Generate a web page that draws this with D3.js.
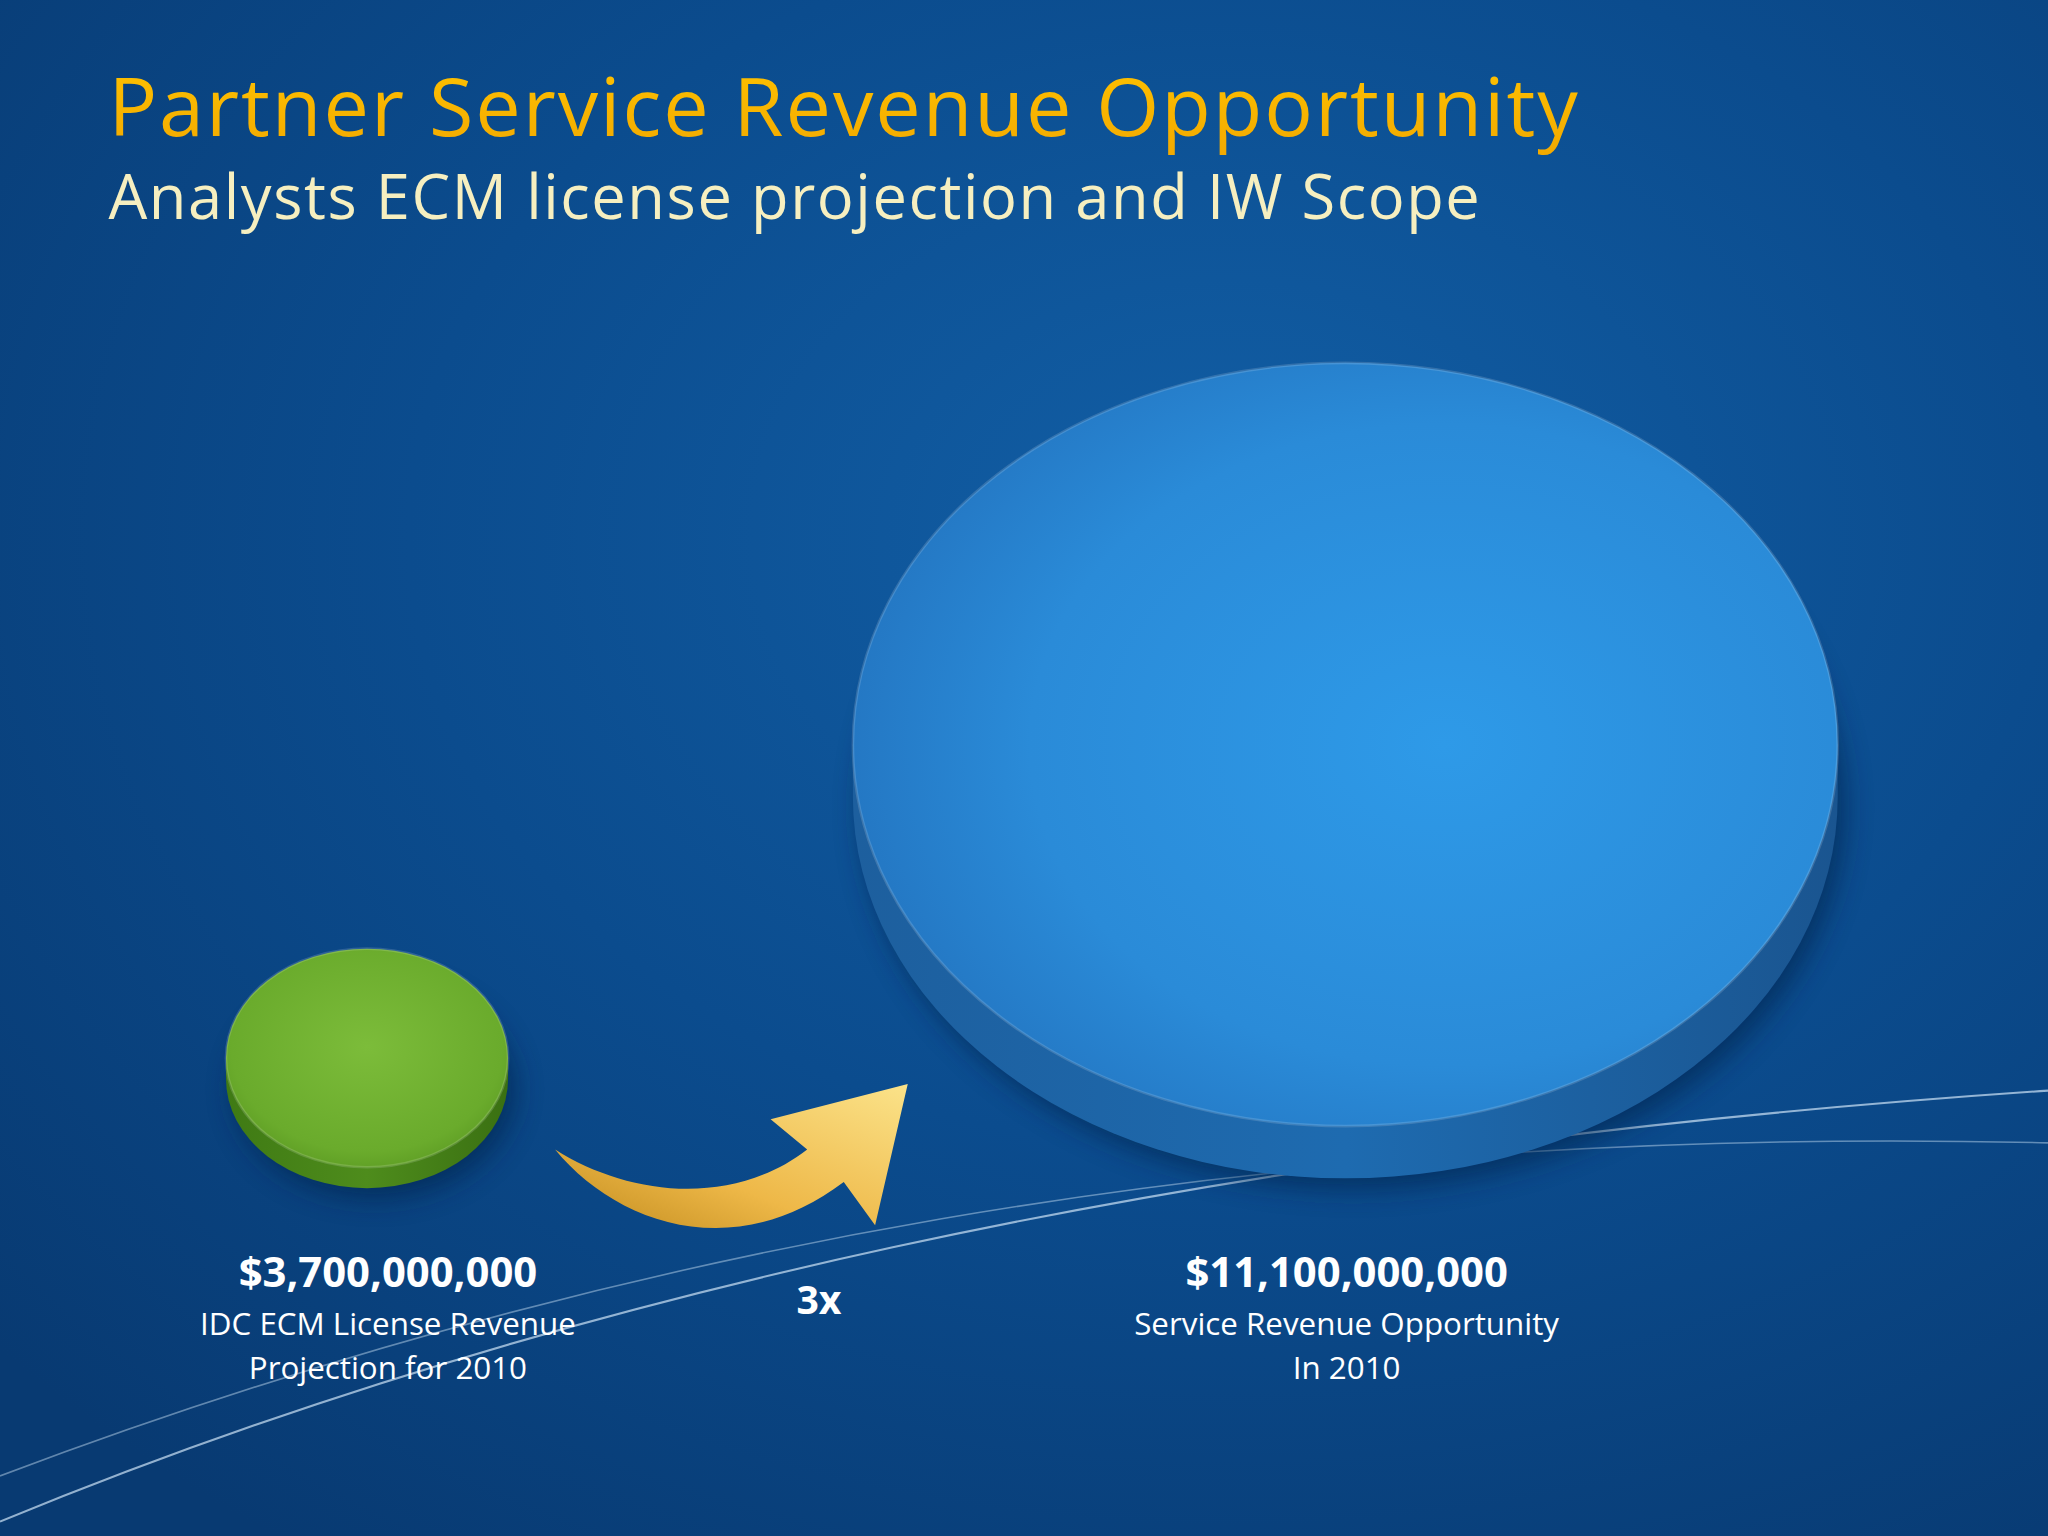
<!DOCTYPE html>
<html><head><meta charset="utf-8">
<script src="https://cdn.jsdelivr.net/npm/d3@7"></script>
<style>body{margin:0;background:#0a4a8a;overflow:hidden}</style>
</head><body>
<script>
// data
var labels   = ["$3,700,000,000", "$11,100,000,000"];
var captions = [["IDC ECM License Revenue", "Projection for 2010"], ["Service Revenue Opportunity", "In 2010"]];
var values   = [3.7, 11.1];           // billions USD
var centersX = [281, 1030];
var ratioLabel = "3x";

var W = 1568, H = 1176;
var svg = d3.select("body").append("svg")
  .attr("width", 2048).attr("height", 1536)
  .attr("viewBox", "0 0 " + W + " " + H);
var defs = svg.append("defs");

function grad(id, type, attrs, stops) {
  var g = defs.append(type).attr("id", id);
  for (var k in attrs) g.attr(k, attrs[k]);
  stops.forEach(function (s) { g.append("stop").attr("offset", s[0]).attr("stop-color", s[1]); });
}
grad("bg", "radialGradient", {cx: "0.6", cy: "0.35", r: "0.8"},
  [[0, "#125fa6"], [0.5, "#0b4c8e"], [1, "#083a72"]]);
grad("blueTop", "radialGradient", {cx: "0.6", cy: "0.5", r: "0.6"},
  [[0, "#2e9ae8"], [0.7, "#2a8bd8"], [1, "#2478c4"]]);
grad("blueSide", "linearGradient", {x1: 0, y1: 0, x2: 1, y2: 0},
  [[0, "#1d5f9e"], [0.5, "#1e6bb0"], [1, "#1a5590"]]);
grad("greenTop", "radialGradient", {cx: "0.5", cy: "0.45", r: "0.6"},
  [[0, "#7cbc3a"], [0.8, "#6aab2c"], [1, "#5b9a22"]]);
grad("greenSide", "linearGradient", {x1: 0, y1: 0, x2: 1, y2: 0},
  [[0, "#3f7a14"], [0.5, "#4e8c1c"], [1, "#3a7012"]]);
grad("arrow", "linearGradient", {x1: 0, y1: 1, x2: 1, y2: 0},
  [[0, "#c08a1c"], [0.4, "#eeb848"], [1, "#fbe38a"]]);
grad("title", "linearGradient", {x1: 0, y1: 0, x2: 0, y2: 1},
  [[0, "#ffc400"], [1, "#f2a800"]]);
var f = defs.append("filter").attr("id", "shadow").attr("x", "-20%").attr("y", "-20%").attr("width", "140%").attr("height", "150%");
f.append("feGaussianBlur").attr("stdDeviation", 10);

svg.append("rect").attr("width", W).attr("height", H).attr("fill", "url(#bg)");

// swoosh lines
svg.append("path").attr("d", "M0,1165 C400,1000 900,880 1568,835")
  .attr("fill", "none").attr("stroke", "#cfe4f7").attr("stroke-opacity", 0.7).attr("stroke-width", 1.6);
svg.append("path").attr("d", "M0,1130 C450,960 950,860 1568,875")
  .attr("fill", "none").attr("stroke", "#cfe4f7").attr("stroke-opacity", 0.45).attr("stroke-width", 1.2);

// radius scale
var rx = d3.scaleLinear().domain([3.7, 11.1]).range([108, 377]);
var discs = [
  {cy: 810, top: "url(#greenTop)", side: "url(#greenSide)", thick: 16},
  {cy: 570, top: "url(#blueTop)", side: "url(#blueSide)", thick: 40}
];
values.forEach(function (v, i) {
  var a = rx(v), b = a * 0.775, cx = centersX[i], d = discs[i], cy = d.cy;
  var g = svg.append("g");
  g.append("ellipse").attr("cx", cx + 6).attr("cy", cy + d.thick + 8).attr("rx", a).attr("ry", b)
    .attr("fill", "#03234a").attr("opacity", 0.6).attr("filter", "url(#shadow)");
  g.append("path").attr("d",
    "M" + (cx - a) + "," + cy + " L" + (cx - a) + "," + (cy + d.thick) +
    " A" + a + "," + b + " 0 0 0 " + (cx + a) + "," + (cy + d.thick) +
    " L" + (cx + a) + "," + cy + " Z").attr("fill", d.side);
  g.append("ellipse").attr("cx", cx).attr("cy", cy).attr("rx", a).attr("ry", b).attr("fill", d.top);
  g.append("ellipse").attr("cx", cx).attr("cy", cy).attr("rx", a).attr("ry", b)
    .attr("fill", "none").attr("stroke", "#ffffff").attr("stroke-opacity", 0.15).attr("stroke-width", 2);

  var t = svg.append("text").attr("x", cx + (i ? 1 : 16)).attr("y", 985).attr("text-anchor", "middle")
    .attr("font-family", "Open Sans, Noto Sans, sans-serif").attr("fill", "#ffffff");
  t.append("tspan").attr("font-size", 32).attr("font-weight", "bold").text(labels[i]);
  captions[i].forEach(function (c, j) {
    svg.append("text").attr("x", cx + (i ? 1 : 16)).attr("y", 1022 + j * 34).attr("text-anchor", "middle")
      .attr("font-family", "Open Sans, Noto Sans, sans-serif").attr("font-size", 24)
      .attr("fill", "#ffffff").text(c);
  });
});

// arrow
svg.append("path")
  .attr("d", "M425,880 C480,915 560,925 618,880 L590,857 L695,830 L670,938 L646,905 C560,970 470,935 425,880 Z")
  .attr("fill", "url(#arrow)");
svg.append("text").attr("x", 627).attr("y", 1006).attr("text-anchor", "middle")
  .attr("font-family", "Open Sans, Noto Sans, sans-serif").attr("font-size", 30).attr("font-weight", "bold")
  .attr("fill", "#ffffff").text(ratioLabel);

// titles
svg.append("text").attr("x", 83).attr("y", 104).attr("font-family", "Open Sans, Noto Sans, sans-serif")
  .attr("font-size", 62).attr("textLength", 1125).attr("fill", "url(#title)").text("Partner Service Revenue Opportunity");
svg.append("text").attr("x", 83).attr("y", 168).attr("font-family", "Open Sans, Noto Sans, sans-serif")
  .attr("font-size", 47).attr("textLength", 1050).attr("fill", "#f6efc0").text("Analysts ECM license projection and IW Scope");
</script>
</body></html>
